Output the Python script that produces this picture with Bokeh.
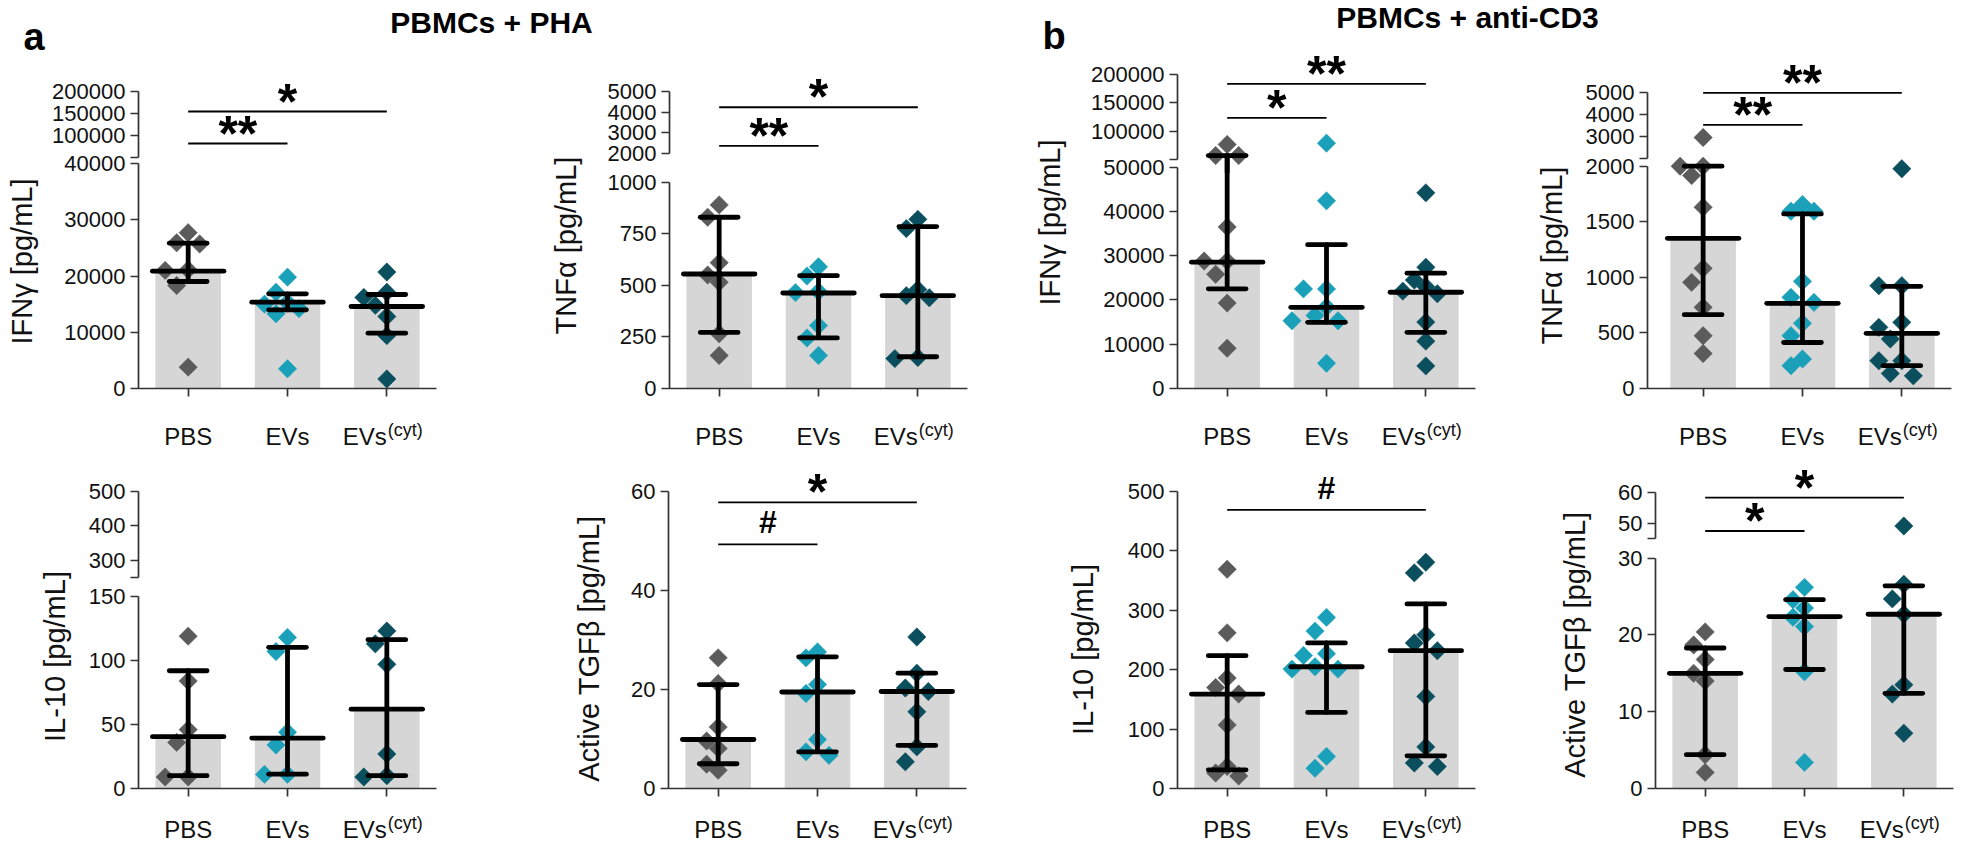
import math
from bokeh.plotting import figure
from bokeh.models import (Range1d, FixedTicker, Label, PrintfTickFormatter,
                          ColumnDataSource, CustomJSTickFormatter)
from bokeh.layouts import row, column
from bokeh.embed import file_html
from bokeh.resources import INLINE
from bokeh.core.properties import value

FONT = "Liberation Sans"

# ======================= data =======================
groups = ["PBS", "EVs", "EVs"]
group_sup = ["", "", "(cyt)"]
group_colors = ["#5b5b5b", "#1aa0b8", "#0b4e5d"]

# ---- a) PBMCs + PHA ----
a_ifng_pbs = [27700, 25900, 25700, 21100, 21000, 18300, 3800]
a_ifng_evs = [19800, 17100, 15300, 15000, 14200, 13300, 3500]
a_ifng_cyt = [20700, 17100, 16200, 14800, 12800, 9400, 1700]
a_ifng_median = [20860, 15340, 14580]
a_ifng_q1 = [19020, 13990, 9830]
a_ifng_q3 = [25840, 16830, 16710]
a_ifng_sig = [(0, 1, 81800, "**"), (0, 2, 154500, "*")]
a_ifng_ticks_low = [0, 10000, 20000, 30000, 40000]
a_ifng_ticks_up = [50000, 100000, 150000, 200000]

a_tnf_pbs = [890, 830, 610, 550, 515, 265, 160]
a_tnf_evs = [590, 545, 470, 465, 305, 245, 160]
a_tnf_cyt = [820, 775, 480, 450, 440, 150, 145]
a_tnf_median = [555, 463, 450]
a_tnf_q1 = [272, 245, 154]
a_tnf_q3 = [830, 547, 785]
a_tnf_sig = [(0, 1, 2380, "**"), (0, 2, 4230, "*")]
a_tnf_ticks_low = [0, 250, 500, 750, 1000]
a_tnf_ticks_up = [2000, 3000, 4000, 5000]

a_il10_pbs = [119, 84, 46, 36, 9, 9]
a_il10_evs = [118, 107, 44, 34, 11, 11]
a_il10_cyt = [123, 113, 97, 27, 9, 10]
a_il10_median = [40.5, 39.4, 62]
a_il10_q1 = [10, 11.2, 10]
a_il10_q3 = [92, 110.3, 116.3]
a_il10_sig = []
a_il10_ticks_low = [0, 50, 100, 150]
a_il10_ticks_up = [250, 300, 400, 500]

a_tgf_pbs = [26.4, 21.2, 12.4, 9.6, 8.1, 4.9, 3.7]
a_tgf_evs = [27.6, 26.4, 21.0, 19.2, 9.9, 7.4, 6.7]
a_tgf_cyt = [30.6, 23.3, 20.3, 19.6, 15.5, 8.4, 5.4]
a_tgf_median = [9.9, 19.5, 19.6]
a_tgf_q1 = [5.0, 7.4, 8.7]
a_tgf_q3 = [21.0, 26.6, 23.3]
a_tgf_sig = [(0, 1, 49.3, "#"), (0, 2, 57.8, "*")]
a_tgf_ticks = [0, 20, 40, 60]

# ---- b) PBMCs + anti-CD3 ----
b_ifng_pbs = [76500, 57000, 57000, 36500, 28800, 28800, 25800, 19300, 9100]
b_ifng_evs = [78800, 42400, 22500, 22500, 18400, 16500, 15300, 15300, 5700]
b_ifng_cyt = [44200, 27400, 24500, 23000, 22000, 21400, 15000, 10700, 5100]
b_ifng_median = [28550, 18350, 21750]
b_ifng_q1 = [22520, 14950, 12690]
b_ifng_q3 = [57000, 32490, 26050]
b_ifng_sig = [(0, 1, 123500, "*"), (0, 2, 183500, "**")]
b_ifng_ticks_low = [0, 10000, 20000, 30000, 40000, 50000]
b_ifng_ticks_up = [50000, 100000, 150000, 200000]

b_tnf_pbs = [2950, 2000, 2000, 1916, 1631, 1081, 955, 730, 475, 315]
b_tnf_evs = [1655, 1595, 1595, 964, 820, 775, 586, 475, 265, 205]
b_tnf_cyt = [1977, 925, 925, 595, 550, 445, 250, 250, 135, 114]
b_tnf_median = [1351, 766, 496]
b_tnf_q1 = [664, 414, 205]
b_tnf_q3 = [2000, 1571, 919]
b_tnf_sig = [(0, 1, 3525, "**"), (0, 2, 4973, "**")]
b_tnf_ticks_low = [0, 500, 1000, 1500, 2000]
b_tnf_ticks_up = [2000, 3000, 4000, 5000]

b_il10_pbs = [369, 262, 186, 170, 159, 107, 37, 26, 21]
b_il10_evs = [288, 265, 227, 224, 205, 201, 201, 54, 34]
b_il10_cyt = [381, 363, 259, 245, 232, 155, 70, 43, 37]
b_il10_median = [159, 205, 232]
b_il10_q1 = [31.5, 128, 55]
b_il10_q3 = [223.6, 245, 310.7]
b_il10_sig = [(0, 2, 469, "#")]
b_il10_ticks = [0, 100, 200, 300, 400, 500]

b_tgf_pbs = [20.4, 18.7, 16.8, 15.0, 14.0, 4.4, 2.1]
b_tgf_evs = [26.2, 24.6, 23.5, 22.3, 21.1, 15.2, 3.4]
b_tgf_cyt = [49.1, 26.6, 24.7, 22.7, 13.5, 12.3, 7.2]
b_tgf_median = [15.0, 22.4, 22.7]
b_tgf_q1 = [4.4, 15.5, 12.4]
b_tgf_q3 = [18.3, 24.6, 26.4]
b_tgf_sig = [(0, 1, 47.5, "*"), (0, 2, 58.2, "*")]
b_tgf_ticks_low = [0, 10, 20, 30]
b_tgf_ticks_up = [45, 50, 60]

panels = {
    "a_ifng": dict(label="IFNγ [pg/mL]", pts=[a_ifng_pbs, a_ifng_evs, a_ifng_cyt],
                   med=a_ifng_median, q1=a_ifng_q1, q3=a_ifng_q3, sig=a_ifng_sig,
                   low=(0, 40000), up=(50000, 200000),
                   ticks_low=a_ifng_ticks_low, ticks_up=a_ifng_ticks_up, blank_up=[50000]),
    "a_tnf": dict(label="TNFα  [pg/mL]", pts=[a_tnf_pbs, a_tnf_evs, a_tnf_cyt],
                  med=a_tnf_median, q1=a_tnf_q1, q3=a_tnf_q3, sig=a_tnf_sig,
                  low=(0, 1000), up=(2000, 5000),
                  ticks_low=a_tnf_ticks_low, ticks_up=a_tnf_ticks_up, blank_up=[]),
    "a_il10": dict(label="IL-10 [pg/mL]", pts=[a_il10_pbs, a_il10_evs, a_il10_cyt],
                   med=a_il10_median, q1=a_il10_q1, q3=a_il10_q3, sig=a_il10_sig,
                   low=(0, 150), up=(250, 500),
                   ticks_low=a_il10_ticks_low, ticks_up=a_il10_ticks_up, blank_up=[250]),
    "a_tgf": dict(label="Active TGFβ  [pg/mL]", pts=[a_tgf_pbs, a_tgf_evs, a_tgf_cyt],
                  med=a_tgf_median, q1=a_tgf_q1, q3=a_tgf_q3, sig=a_tgf_sig,
                  low=(0, 60), up=None, ticks_low=a_tgf_ticks),
    "b_ifng": dict(label="IFNγ [pg/mL]", pts=[b_ifng_pbs, b_ifng_evs, b_ifng_cyt],
                   med=b_ifng_median, q1=b_ifng_q1, q3=b_ifng_q3, sig=b_ifng_sig,
                   low=(0, 50000), up=(50000, 200000),
                   ticks_low=b_ifng_ticks_low, ticks_up=b_ifng_ticks_up, blank_up=[50000]),
    "b_tnf": dict(label="TNFα  [pg/mL]", pts=[b_tnf_pbs, b_tnf_evs, b_tnf_cyt],
                  med=b_tnf_median, q1=b_tnf_q1, q3=b_tnf_q3, sig=b_tnf_sig,
                  low=(0, 2000), up=(2000, 5000),
                  ticks_low=b_tnf_ticks_low, ticks_up=b_tnf_ticks_up, blank_up=[2000]),
    "b_il10": dict(label="IL-10 [pg/mL]", pts=[b_il10_pbs, b_il10_evs, b_il10_cyt],
                   med=b_il10_median, q1=b_il10_q1, q3=b_il10_q3, sig=b_il10_sig,
                   low=(0, 500), up=None, ticks_low=b_il10_ticks),
    "b_tgf": dict(label="Active TGFβ  [pg/mL]", pts=[b_tgf_pbs, b_tgf_evs, b_tgf_cyt],
                  med=b_tgf_median, q1=b_tgf_q1, q3=b_tgf_q3, sig=b_tgf_sig,
                  low=(0, 30), up=(45, 60),
                  ticks_low=b_tgf_ticks_low, ticks_up=b_tgf_ticks_up, blank_up=[45]),
}

# ======================= layout / geometry (page pixels) =======================
PPU_X = 99.3
BAR_W, MED_W, CAP_W = 0.66, 0.72, 0.38
TOP0, MID, BOT = 58, 458, 845
XB = 14   # lower figure border under the x axis (ticks only)
EXT = 28  # top-row upper plots reach up over the (transparent) header band

geo = {
    "a_ifng": dict(x0=0, x1=468, strip=44, axis=138, xs=-0.5, top=TOP0, bot=MID, broken=True,
                   xaxis=388, low_px=163, up_px=(157, 91), lab=(21, 261), cat_y=435.5),
    "a_il10": dict(x0=0, x1=468, strip=80, axis=138, xs=-0.5, top=MID, bot=BOT, broken=True,
                   xaxis=788, low_px=596, up_px=(576.7, 491), lab=(54, 656), cat_y=829),
    "a_tnf": dict(x0=468, x1=1000, strip=590, axis=669, xs=-0.5, top=TOP0, bot=MID, broken=True,
                  xaxis=388, low_px=181.7, up_px=(153.3, 90.7), lab=(565, 241), cat_y=435.5),
    "a_tgf": dict(x0=468, x1=1000, strip=617, axis=668, xs=-0.5, top=MID, bot=BOT, broken=False,
                  xaxis=788, low_px=491, up_px=None, lab=(588, 644), cat_y=829),
    "b_ifng": dict(x0=1000, x1=1495, strip=1075, axis=1177, xs=-0.5, top=TOP0, bot=MID,
                   broken=True, xaxis=388, low_px=166.7, up_px=(159, 74), lab=(1049, 222),
                   cat_y=435.5),
    "b_il10": dict(x0=1000, x1=1495, strip=1110, axis=1177, xs=-0.5, top=MID, bot=BOT,
                   broken=False, xaxis=788, low_px=491, up_px=None, lab=(1082, 649), cat_y=829),
    "b_tnf": dict(x0=1495, x1=1961, strip=1580, axis=1647, xs=-0.56, top=TOP0, bot=MID,
                  broken=True, xaxis=388, low_px=165.7, up_px=(158, 91.7), lab=(1551, 251),
                  cat_y=435.5),
    "b_tgf": dict(x0=1495, x1=1961, strip=1605, axis=1655, xs=-0.5, top=MID, bot=BOT, broken=True,
                  xaxis=788, low_px=557.7, up_px=(538.3, 491.5), lab=(1574, 640), cat_y=829),
}

AX_COL = "#333333"


def base_fig(w, h, xr, yr, mbl, mbr, mbt, mbb, xaxis=True, yaxis=True, clear=False):
    p = figure(width=int(w), height=int(h), x_range=xr, y_range=yr,
               min_border_left=int(mbl), min_border_right=int(mbr),
               min_border_top=int(mbt), min_border_bottom=int(mbb),
               toolbar_location=None, output_backend="svg", title=None,
               x_axis_location="below" if xaxis else None,
               y_axis_location="left" if yaxis else None)
    p.grid.visible = False
    p.outline_line_color = None
    if clear:
        p.background_fill_color = None
        p.border_fill_color = None
    else:
        p.background_fill_color = "white"
        p.border_fill_color = "white"
    return p


def style_y(p, ticks, bounds, blank):
    ax = p.yaxis[0]
    ax.ticker = FixedTicker(ticks=ticks)
    ax.formatter = PrintfTickFormatter(format="%d")
    ov = {}
    for t in blank:
        ov[t] = ""
        ov[str(t)] = ""
    ax.major_label_overrides = ov
    ax.bounds = bounds
    ax.major_tick_out = 8
    ax.major_tick_in = 0
    ax.minor_tick_out = 0
    ax.minor_tick_in = 0
    ax.axis_line_color = AX_COL
    ax.axis_line_width = 1.7
    ax.major_tick_line_color = AX_COL
    ax.major_tick_line_width = 1.7
    ax.major_label_text_font = FONT
    ax.major_label_text_font_size = "22px"
    ax.major_label_text_color = "#111111"
    ax.major_label_standoff = 5


def style_x(p, xs):
    ax = p.xaxis[0]
    ax.ticker = FixedTicker(ticks=[0, 1, 2])
    ax.formatter = CustomJSTickFormatter(code="return ''")
    ax.major_label_text_font_size = "1px"
    ax.major_label_standoff = 0
    ax.bounds = (xs - 0.08, 2.5)
    ax.major_tick_out = 8
    ax.major_tick_in = 0
    ax.minor_tick_out = 0
    ax.minor_tick_in = 0
    ax.axis_line_color = AX_COL
    ax.axis_line_width = 1.7
    ax.major_tick_line_color = AX_COL
    ax.major_tick_line_width = 1.7


def swarm(vals, to_px, step=11.5, diam=17.0):
    order = sorted(range(len(vals)), key=lambda i: -vals[i])
    placed = []
    offs = [0.0] * len(vals)
    cands = [0, -1, 1, -2, 2, -3, 3, -4, 4]
    for i in order:
        py = to_px(vals[i])
        dx = 0.0
        for c in cands:
            dx = c * step
            if all(abs(dx - qx) + abs(py - qy) >= diam for qx, qy in placed):
                break
        placed.append((dx, py))
        offs[i] = dx / PPU_X
    return offs


def draw_errbars(p, med, q1, q3, parts=("med", "lo", "hi", "vert"), idx=None):
    idx = range(3) if idx is None else idx
    x0, y0, x1, y1 = [], [], [], []
    for i in idx:
        if "vert" in parts:
            x0.append(i); x1.append(i); y0.append(q1[i]); y1.append(q3[i])
        if "hi" in parts:
            x0.append(i - CAP_W / 2); x1.append(i + CAP_W / 2); y0.append(q3[i]); y1.append(q3[i])
        if "lo" in parts:
            x0.append(i - CAP_W / 2); x1.append(i + CAP_W / 2); y0.append(q1[i]); y1.append(q1[i])
        if "med" in parts:
            x0.append(i - MED_W / 2); x1.append(i + MED_W / 2); y0.append(med[i]); y1.append(med[i])
    if x0:
        p.segment(x0=x0, y0=y0, x1=x1, y1=y1, line_color="black", line_width=4.8,
                  line_cap="round")


def draw_sig(p, sig):
    if not sig:
        return
    p.segment(x0=[s[0] for s in sig], x1=[s[1] for s in sig],
              y0=[s[2] for s in sig], y1=[s[2] for s in sig],
              line_color="black", line_width=1.8)
    src = ColumnDataSource(dict(
        x=[(s[0] + s[1]) / 2 for s in sig], y=[s[2] for s in sig], t=[s[3] for s in sig],
        fs=["50px" if "*" in s[3] else "32px" for s in sig],
        yo=[-10 if "*" in s[3] else -22 for s in sig]))
    p.text(x="x", y="y", text="t", source=src, text_font=value(FONT), text_font_style="bold",
           text_font_size="fs", text_align="center", text_baseline="middle",
           y_offset="yo", text_color="black")


def lab(p, x, y, text, size, **kw):
    p.add_layout(Label(x=x, y=y, text=text, text_font=FONT, text_font_size=size,
                       text_color="#111111", **kw))


def build_panel(key):
    d, g = panels[key], geo[key]
    fig_w = g["x1"] - g["strip"]
    mbl = g["axis"] - g["strip"]
    frame_w = int(round((2.5 - g["xs"]) * PPU_X))
    mbr = fig_w - mbl - frame_w
    xa = g["xaxis"]
    lo0, lo1 = d["low"]
    ppu_lo = (xa - g["low_px"]) / (lo1 - lo0)
    broken = g["broken"]
    if broken:
        split_l = int(round(g["low_px"])) - 14      # top of lower canvas
        split_u = int(round(g["low_px"])) + 6       # bottom of upper canvas (overlapping)
        low_top = split_l
    else:
        low_top = g["top"]
    yr_lo = Range1d(lo0, lo0 + (xa - low_top) / ppu_lo)
    xr = Range1d(g["xs"], 2.5)

    if broken:
        u0, u1 = d["up"]
        pu0, pu1 = g["up_px"]
        ppu_up = (pu0 - pu1) / (u1 - u0)

    def to_px(v):
        if broken and v > lo1:
            return pu0 - (v - u0) * ppu_up
        return xa - (v - lo0) * ppu_lo

    # points (horizontal spread computed from the values, beeswarm style)
    px, py, pc, pup = [], [], [], []
    for gi, vals in enumerate(d["pts"]):
        offs = swarm(vals, to_px)
        for v, o in zip(vals, offs):
            px.append(gi + o); py.append(v); pc.append(group_colors[gi])
            pup.append(broken and v > lo1)

    def pts_src(upper):
        sel = [i for i in range(len(px)) if pup[i] == upper]
        return ColumnDataSource(dict(x=[px[i] for i in sel], y=[py[i] for i in sel],
                                     c=[pc[i] for i in sel]))

    # lower (or single) figure
    pl = base_fig(fig_w, xa + XB - low_top, xr, yr_lo, mbl, mbr, 0, XB, clear=broken)
    style_y(pl, d["ticks_low"], (lo0, lo1), [])
    style_x(pl, g["xs"])
    pl.vbar(x=[0, 1, 2], top=d["med"], bottom=0, width=BAR_W, fill_color="#d6d6d6",
            line_color=None)
    pl.scatter(x="x", y="y", source=pts_src(False), marker="square", size=13.0,
               angle=math.pi / 4, fill_color="c", line_color="c", line_width=0.5)
    draw_errbars(pl, d["med"], d["q1"], d["q3"])
    if not broken:
        draw_sig(pl, d["sig"])

    # category label strip (shares the x range of the plot)
    cy = g["cat_y"]
    pc_ = base_fig(fig_w, g["bot"] - xa - XB, xr, Range1d(g["bot"], xa + XB), mbl, mbr, 0, 0,
                   xaxis=False, yaxis=False)
    ci = [i for i in range(3) if not group_sup[i]]
    si = [i for i in range(3) if group_sup[i]]
    tk = dict(text_font=value(FONT), text_font_size="24px", text_baseline="middle",
              text_color="#111111")
    pc_.text(x=ci, y=[cy] * len(ci), text=[groups[i] for i in ci], text_align="center", **tk)
    pc_.text(x=si, y=[cy] * len(si), text=[groups[i] for i in si], text_align="right", **tk)
    pc_.text(x=si, y=[cy - 6.5] * len(si), text=[group_sup[i] for i in si], text_align="left",
             x_offset=1, text_font=value(FONT), text_font_size="18px", text_baseline="middle",
             text_color="#111111")

    figs = [pl, pc_]
    if broken:
        ext = EXT if g["top"] == TOP0 else 0
        top = g["top"] - ext
        yr_up = Range1d(u0 - (split_u - pu0) / ppu_up, u0 + (pu0 - top) / ppu_up)
        pu = base_fig(fig_w, split_u - top, xr, yr_up, mbl, mbr, 0, 0, xaxis=False,
                      clear=ext > 0)
        style_y(pu, d["ticks_up"], (u0, u1), d["blank_up"])
        pu.scatter(x="x", y="y", source=pts_src(True), marker="square", size=13.0,
                   angle=math.pi / 4, fill_color="c", line_color="c", line_width=0.5)
        idx = [i for i in range(3) if d["q3"][i] > lo1]
        if idx:
            draw_errbars(pu, d["med"], d["q1"], d["q3"], parts=("vert", "hi"), idx=idx)
        draw_sig(pu, d["sig"])
        if ext:
            pu.margin = (-ext, 0, 0, 0)
        pl.margin = (-(split_u - split_l), 0, 0, 0)
        figs = [pu, pl, pc_]

    # y-label strip
    sw = g["strip"] - g["x0"]
    ps = base_fig(sw, g["bot"] - g["top"], Range1d(g["x0"], g["strip"]),
                  Range1d(g["bot"], g["top"]), 0, 0, 0, 0, xaxis=False, yaxis=False)
    lab(ps, g["lab"][0], g["lab"][1], d["label"], "29px", text_align="center",
        text_baseline="middle", angle=math.pi / 2)
    return row(ps, column(*figs, spacing=0), spacing=0)


# header
hdr = base_fig(1961, TOP0, Range1d(0, 1961), Range1d(TOP0, 0), 0, 0, 0, 0,
               xaxis=False, yaxis=False)
hb = dict(text_font=FONT, text_font_style="bold", text_color="black", text_baseline="middle")
hdr.add_layout(Label(x=23, y=36, text="a", text_font_size="38px", text_align="left", **hb))
hdr.add_layout(Label(x=1042, y=35, text="b", text_font_size="38px", text_align="left", **hb))
hdr.add_layout(Label(x=491, y=22, text="PBMCs + PHA", text_font_size="30px",
                     text_align="center", **hb))
hdr.add_layout(Label(x=1467, y=17, text="PBMCs + anti-CD3", text_font_size="30px",
                     text_align="center", **hb))

cols = [
    column(build_panel("a_ifng"), build_panel("a_il10"), spacing=0),
    column(build_panel("a_tnf"), build_panel("a_tgf"), spacing=0),
    column(build_panel("b_ifng"), build_panel("b_il10"), spacing=0),
    column(build_panel("b_tnf"), build_panel("b_tgf"), spacing=0),
]
layout = column(hdr, row(*cols, spacing=0), spacing=0)

open("out.html", "w").write(file_html(layout, INLINE))
